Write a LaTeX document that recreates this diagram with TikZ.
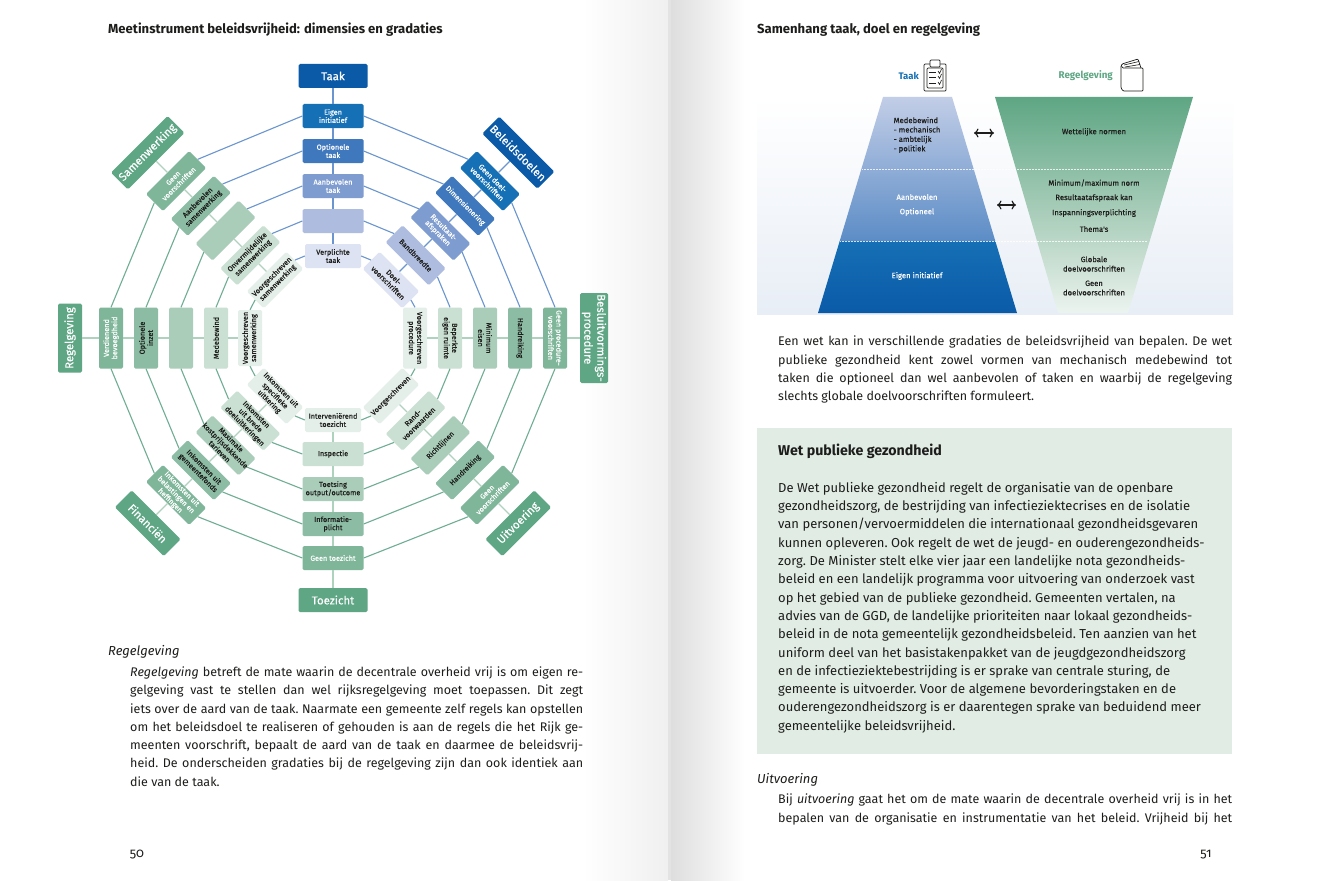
\documentclass[tikz,border=0pt]{standalone}
\usepackage{fontspec}
\setmainfont{Fira Sans}
\newfontfamily\medfont[FakeBold=0.35]{Fira Sans}
\newfontfamily\pagefont[Numbers=OldStyle]{Fira Sans}
\usetikzlibrary{shadings,arrows.meta}

\definecolor{blueOut}{HTML}{0A5AA8}
\definecolor{blueA}{HTML}{1670B5}
\definecolor{blueB}{HTML}{3F78BC}
\definecolor{blueC}{HTML}{7E9CCF}
\definecolor{blueD}{HTML}{AEBDDF}
\definecolor{blueE}{HTML}{DDE3F2}
\definecolor{blueLine}{HTML}{6A95CF}
\definecolor{greenOut}{HTML}{5EA684}
\definecolor{greenA}{HTML}{7FB69A}
\definecolor{greenB}{HTML}{8CBDA4}
\definecolor{greenC}{HTML}{AACDB9}
\definecolor{greenD}{HTML}{C9E0D2}
\definecolor{greenE}{HTML}{E4EFE9}
\definecolor{greenLine}{HTML}{6FAE94}
\definecolor{greenSpoke}{HTML}{AFD2BE}
\definecolor{tealBox}{HTML}{E1ECE5}
\definecolor{schemeBack}{HTML}{E8EEF6}
\definecolor{inkText}{HTML}{1D1D1B}

\tikzset{
    ringbox/.style={rectangle, rounded corners=1.5pt, minimum width=61pt, minimum height=24pt,
        inner sep=0pt, align=center, text=inkText, font=\medfont\fontsize{7.3}{8.2}\selectfont},
    innerbox/.style={ringbox, minimum width=56pt},
    outerbox/.style={ringbox, minimum width=69pt, minimum height=24pt, text=white,
        font=\medfont\fontsize{11.4}{13}\selectfont},
    trapezlabel/.style={align=center, inner sep=0pt, text=inkText, font=\medfont\fontsize{7.7}{9.4}\selectfont},
    bodytext/.style={anchor=north west, inner sep=0pt, font=\frenchspacing\fontsize{12.5}{18.3}\selectfont, text=inkText},
    headtext/.style={anchor=west, inner sep=0pt, font=\fontsize{13}{15}\selectfont, text=inkText},
    pagenum/.style={anchor=center, inner sep=0pt, font=\pagefont\fontsize{13}{15}\selectfont, text=inkText},
    spoke blue/.style={blueLine, line width=1.1pt},
    spoke green/.style={greenSpoke, line width=1.2pt},
    ring blue/.style={blueLine, line width=1.1pt},
    ring green/.style={greenLine, line width=1.1pt},
    icon/.style={inkText, line width=0.7pt, rounded corners=1pt},
}

\begin{document}
\begin{tikzpicture}[x=1pt, y=1pt]
    \useasboundingbox (0,0) rectangle (1340,-880);
    \fill[white] (0,0) rectangle (1340,-880);

    % Spine shadow
    \shade[left color=white, right color=black!6] (583,0) rectangle (668,-880);
    \fill[black!11] (668,0) rectangle (671,-880);
    \shade[left color=black!13, right color=white] (671,0) rectangle (745,-880);

    % Page titles
    \node[headtext, font=\fontsize{13.1}{15}\selectfont\bfseries] (titleleft) at (108,-30) {Meetinstrument beleidsvrijheid: dimensies en gradaties};
    \node[headtext, font=\fontsize{13.1}{15}\selectfont\bfseries] (titleright) at (757,-30) {Samenhang taak, doel en regelgeving};

    \begin{scope}[shift={(333,-338)}]
        % Taak
        \node[outerbox, fill=blueOut] (taak0) at (90:262) {Taak};
        \node[ringbox, fill=blueA, text=white] (taak1) at (90:222) {Eigen\\initiatief};
        \node[ringbox, fill=blueB, text=white] (taak2) at (90:187) {Optionele\\taak};
        \node[ringbox, fill=blueC, text=white] (taak3) at (90:152) {Aanbevolen\\taak};
        \node[ringbox, fill=blueD] (taak4) at (90:117) {};
        \node[innerbox, fill=blueE] (taak5) at (90:82) {Verplichte\\taak};

        % Beleidsdoelen
        \node[outerbox, fill=blueOut, rotate=-45, minimum width=78pt] (doel0) at (45:262) {Beleidsdoelen};
        \node[ringbox, fill=blueA, text=white, rotate=-45] (doel1) at (45:222) {Geen doel-\\voorschriften};
        \node[ringbox, fill=blueB, text=white, rotate=-45] (doel2) at (45:187) {Dimensionering};
        \node[ringbox, fill=blueC, text=white, rotate=-45] (doel3) at (45:152) {Resultaat-\\afspraken};
        \node[ringbox, fill=blueD, rotate=-45] (doel4) at (45:117) {Bandbreedte};
        \node[innerbox, fill=blueE, rotate=-45] (doel5) at (45:82) {Doel-\\voorschriften};

        % Besluitvormingsprocedure
        \node[outerbox, fill=greenOut, rotate=-90, minimum width=90pt, minimum height=28pt] (proc0) at (0:261) {Besluitvormings-\\procedure};
        \node[ringbox, fill=greenA, text=white, rotate=-90] (proc1) at (0:222) {Geen procedure-\\voorschriften};
        \node[ringbox, fill=greenB, rotate=-90] (proc2) at (0:187) {Handreiking};
        \node[ringbox, fill=greenC, rotate=-90] (proc3) at (0:152) {Minimum\\eisen};
        \node[ringbox, fill=greenD, rotate=-90] (proc4) at (0:117) {Beperkte\\eigen ruimte};
        \node[ringbox, fill=greenE, rotate=-90] (proc5) at (0:82) {Voorgeschreven\\procedure};

        % Uitvoering
        \node[outerbox, fill=greenOut, rotate=45] (uitv0) at (-45:262) {Uitvoering};
        \node[ringbox, fill=greenA, text=white, rotate=45] (uitv1) at (-45:222) {Geen\\voorschriften};
        \node[ringbox, fill=greenB, rotate=45] (uitv2) at (-45:187) {Handreiking};
        \node[ringbox, fill=greenC, rotate=45] (uitv3) at (-45:152) {Richtlijnen};
        \node[ringbox, fill=greenD, rotate=45] (uitv4) at (-45:117) {Rand-\\voorwaarden};
        \node[innerbox, fill=greenE, rotate=45] (uitv5) at (-45:82) {Voorgeschreven};

        % Toezicht
        \node[outerbox, fill=greenOut] (toez0) at (-90:262) {Toezicht};
        \node[ringbox, fill=greenA, text=white] (toez1) at (-90:220) {Geen toezicht};
        \node[ringbox, fill=greenB] (toez2) at (-90:186) {Informatie-\\plicht};
        \node[ringbox, fill=greenC] (toez3) at (-90:151) {Toetsing\\output/outcome};
        \node[ringbox, fill=greenD] (toez4) at (-90:116) {Inspectie};
        \node[innerbox, fill=greenE] (toez5) at (-90:82) {Interveniërend\\toezicht};

        % Financien
        \node[outerbox, fill=greenOut, rotate=-45] (fin0) at (-135:262) {Financiën};
        \node[ringbox, fill=greenA, text=white, rotate=-45] (fin1) at (-135:222) {Inkomsten uit\\belastingen en\\heffingen};
        \node[ringbox, fill=greenB, rotate=-45] (fin2) at (-135:187) {Inkomsten uit\\gemeentefonds};
        \node[ringbox, fill=greenC, rotate=-45] (fin3) at (-135:152) {Maximale\\\makebox[0pt]{kostprijsdekkende}\\tarieven};
        \node[ringbox, fill=greenD, rotate=-45] (fin4) at (-135:117) {Inkomsten\\uit brede\\doeluitkeringen};
        \node[innerbox, fill=greenE, rotate=-45] (fin5) at (-135:82) {Inkomsten uit\\specifieke\\uitkering};

        % Regelgeving
        \node[outerbox, fill=greenOut, rotate=90] (reg0) at (180:263) {Regelgeving};
        \node[ringbox, fill=greenA, text=white, rotate=90] (reg1) at (180:222) {Verdienend\\bevoegdheid};
        \node[ringbox, fill=greenB, rotate=90] (reg2) at (180:187) {Optionele\\inzet};
        \node[ringbox, fill=greenC, rotate=90] (reg3) at (180:152) {};
        \node[ringbox, fill=greenD, rotate=90] (reg4) at (180:117) {Medebewind};
        \node[innerbox, fill=greenE, rotate=90] (reg5) at (180:83) {Voorgeschreven\\samenwerking};

        % Samenwerking
        \node[outerbox, fill=greenOut, rotate=45, minimum width=80pt] (sam0) at (135:262) {Samenwerking};
        \node[ringbox, fill=greenA, text=white, rotate=45] (sam1) at (135:222) {Geen\\voorschriften};
        \node[ringbox, fill=greenB, rotate=45] (sam2) at (135:187) {Aanbevolen\\samenwerking};
        \node[ringbox, fill=greenC, rotate=45] (sam3) at (135:152) {};
        \node[ringbox, fill=greenD, rotate=45] (sam4) at (135:117) {Onvermijdelijke\\samenwerking};
        \node[innerbox, fill=greenE, rotate=45] (sam5) at (135:82) {Voorgeschreven\\samenwerking};
    \end{scope}

    % Rings
    \foreach \n in {1,...,5} {
        \draw[ring blue] (sam\n.east) -- (taak\n.west);
        \draw[ring blue] (taak\n.east) -- (doel\n.west);
        \draw[ring blue] (doel\n.east) -- (proc\n.west);
        \draw[ring green] (proc\n.east) -- (uitv\n.east);
        \draw[ring green] (uitv\n.west) -- (toez\n.east);
        \draw[ring green] (toez\n.west) -- (fin\n.east);
        \draw[ring green] (fin\n.west) -- (reg\n.west);
        \draw[ring green] (reg\n.east) -- (sam\n.west);
    }

    % Spokes
    \foreach \a/\b in {0/1,1/2,2/3,3/4,4/5} {
        \draw[spoke blue] (taak\a) -- (taak\b);
        \draw[spoke blue] (doel\a) -- (doel\b);
        \draw[spoke green] (proc\a) -- (proc\b);
        \draw[spoke green] (uitv\a) -- (uitv\b);
        \draw[spoke green] (toez\a) -- (toez\b);
        \draw[spoke green] (fin\a) -- (fin\b);
        \draw[spoke green] (reg\a) -- (reg\b);
        \draw[spoke green] (sam\a) -- (sam\b);
    }

    % Left page text
    \node[headtext] (regelhead) at (108,-652) {\itshape Regelgeving};
    \node[bodytext, text width=453pt, align=justify] (regelbody) at (130,-666.5) {%
        \emph{Regelgeving} betreft de mate waarin de decentrale overheid vrij is om eigen re-\linebreak
        gelgeving vast te stellen dan wel rijksregelgeving moet toepassen. Dit zegt\linebreak
        iets over de aard van de taak. Naarmate een gemeente zelf regels kan opstellen\linebreak
        om het beleidsdoel te realiseren of gehouden is aan de regels die het Rijk ge-\linebreak
        meenten voorschrift, bepaalt de aard van de taak en daarmee de beleidsvrij-\linebreak
        heid. De onderscheiden gradaties bij de regelgeving zijn dan ook identiek aan\linebreak
        die van de taak.\par};
    \node[pagenum] (pageleft) at (137,-855) {50};

    % Scheme background
    \shade[top color=white, bottom color=schemeBack] (757,-97) rectangle (1233,-314);

    % Taak trapezium
    \shade[top color=blueD!75!white, bottom color=blueB!85!white] (883,-97) -- (952,-97) -- (995.3,-241) -- (839.7,-241) -- cycle;
    \shade[top color=blueA, bottom color=blueOut] (839.7,-241) -- (995.3,-241) -- (1017,-313) -- (818,-313) -- cycle;

    % Regelgeving trapezium
    \shade[top color=greenOut, bottom color=greenC!80!white] (995,-97) -- (1193,-97) -- (1149.7,-241) -- (1037,-241) -- cycle;
    \shade[top color=greenC!80!white, bottom color=greenE!70!white] (1037,-241) -- (1149.7,-241) -- (1128,-313) -- (1058,-313) -- cycle;

    % Dotted separators
    \draw[white, densely dotted, line width=0.5pt, opacity=0.8] (862,-169) -- (1170,-169);
    \draw[white, densely dotted, line width=0.5pt, opacity=0.8] (840,-241) -- (1147,-241);

    % Scheme headers
    \node[anchor=east, inner sep=0pt, text=blueA, font=\fontsize{9.5}{11}\selectfont\bfseries] (schemetaak) at (919,-76) {Taak};
    \node[anchor=east, inner sep=0pt, text=greenOut, font=\fontsize{9.8}{11}\selectfont\bfseries] (schemeregel) at (1113,-76) {Regelgeving};

    % Clipboard
    \draw[icon] (924,-64) rectangle (946,-91);
    \draw[icon, fill=white] (930,-60) rectangle (940,-67);
    \draw[icon] (927,-68) rectangle (943,-88);
    \foreach \y in {-72,-77,-83} {
        \draw[inkText, line width=0.6pt] (929,\y) -- (936,\y);
        \draw[inkText, line width=0.6pt] (938,\y+1) -- (939.5,\y-1.5) -- (941.5,\y+3);
    }

    % Book
    \draw[icon] (1121,-66) -- (1121,-88) -- (1123,-91) -- (1143,-91) -- (1143,-68) -- (1123,-68);
    \draw[icon] (1123,-68) -- (1121,-66) -- (1122,-64) -- (1138,-59) -- (1141,-68);
    \draw[inkText, line width=0.6pt] (1124,-65) -- (1139,-61.5);
    \draw[inkText, line width=0.6pt] (1125,-67) -- (1140,-64.5);

    % Double arrows
    \coordinate (arrowAleft) at (974,-133);
    \coordinate (arrowAright) at (994,-133);
    \coordinate (arrowBleft) at (997,-205);
    \coordinate (arrowBright) at (1016,-205);
    \draw[{To[length=4.5pt,width=9pt]}-{To[length=4.5pt,width=9pt]}, inkText, line width=1.2pt] (arrowAleft) -- (arrowAright);
    \draw[{To[length=4.5pt,width=9pt]}-{To[length=4.5pt,width=9pt]}, inkText, line width=1.2pt] (arrowBleft) -- (arrowBright);

    % Taak labels
    \node[trapezlabel, align=left] (taakmede) at (917,-135) {Medebewind\\- mechanisch\\- ambtelijk\\- politiek};
    \node[trapezlabel, text=white] (taakaanb) at (917,-197) {Aanbevolen};
    \node[trapezlabel, text=white] (taakopt) at (917,-212) {Optioneel};
    \node[trapezlabel, text=white] (taakeigen) at (917,-276) {Eigen initiatief};

    % Regelgeving labels
    \node[trapezlabel] (regelwet) at (1094,-132) {Wettelijke normen};
    \node[trapezlabel] (regelmin) at (1094,-183) {Minimum/maximum norm};
    \node[trapezlabel] (regelres) at (1094,-198) {Resultaatafspraak kan};
    \node[trapezlabel] (regelinsp) at (1094,-213) {Inspanningsverplichting};
    \node[trapezlabel] (regelthema) at (1094,-229) {Thema's};
    \node[trapezlabel] (regelglob) at (1094,-264) {Globale\\doelvoorschriften};
    \node[trapezlabel] (regelgeen) at (1094,-288) {Geen\\doelvoorschriften};

    % Right page text
    \node[bodytext, text width=454pt, align=justify] (wetbody) at (778,-336) {%
        Een wet kan in verschillende gradaties de beleidsvrijheid van bepalen. De wet\linebreak
        publieke gezondheid kent zowel vormen van mechanisch medebewind tot\linebreak
        taken die optioneel dan wel aanbevolen of taken en waarbij de regelgeving\linebreak
        slechts globale doelvoorschriften formuleert.\par};

    % Wet publieke gezondheid
    \fill[tealBox] (757,-428) rectangle (1232,-754);
    \node[headtext, font=\fontsize{14.2}{16}\selectfont\bfseries] (boxhead) at (778,-451) {Wet publieke gezondheid};
    \node[bodytext, align=left, font=\frenchspacing\fontsize{13}{18.3}\selectfont] (boxbody) at (778,-482) {%
        De Wet publieke gezondheid regelt de organisatie van de openbare\\
        gezondheidszorg, de bestrijding van infectieziektecrises en de isolatie\\
        van personen/vervoermiddelen die internationaal gezondheidsgevaren\\
        kunnen opleveren. Ook regelt de wet de jeugd- en ouderengezondheids-\\
        zorg. De Minister stelt elke vier jaar een landelijke nota gezondheids-\\
        beleid en een landelijk programma voor uitvoering van onderzoek vast\\
        op het gebied van de publieke gezondheid. Gemeenten vertalen, na\\
        advies van de GGD, de landelijke prioriteiten naar lokaal gezondheids-\\
        beleid in de nota gemeentelijk gezondheidsbeleid. Ten aanzien van het\\
        uniform deel van het basistakenpakket van de jeugdgezondheidszorg\\
        en de infectieziektebestrijding is er sprake van centrale sturing, de\\
        gemeente is uitvoerder. Voor de algemene bevorderingstaken en de\\
        ouderengezondheidszorg is er daarentegen sprake van beduidend meer\\
        gemeentelijke beleidsvrijheid.};

    % Uitvoering
    \node[headtext] (uitvhead) at (757,-780) {\itshape Uitvoering};
    \node[bodytext, text width=454pt, align=justify] (uitvbody) at (778,-794) {%
        Bij \emph{uitvoering} gaat het om de mate waarin de decentrale overheid vrij is in het\linebreak
        bepalen van de organisatie en instrumentatie van het beleid. Vrijheid bij het\linebreak};
    \node[pagenum] (pageright) at (1206,-855) {51};
\end{tikzpicture}
\end{document}
